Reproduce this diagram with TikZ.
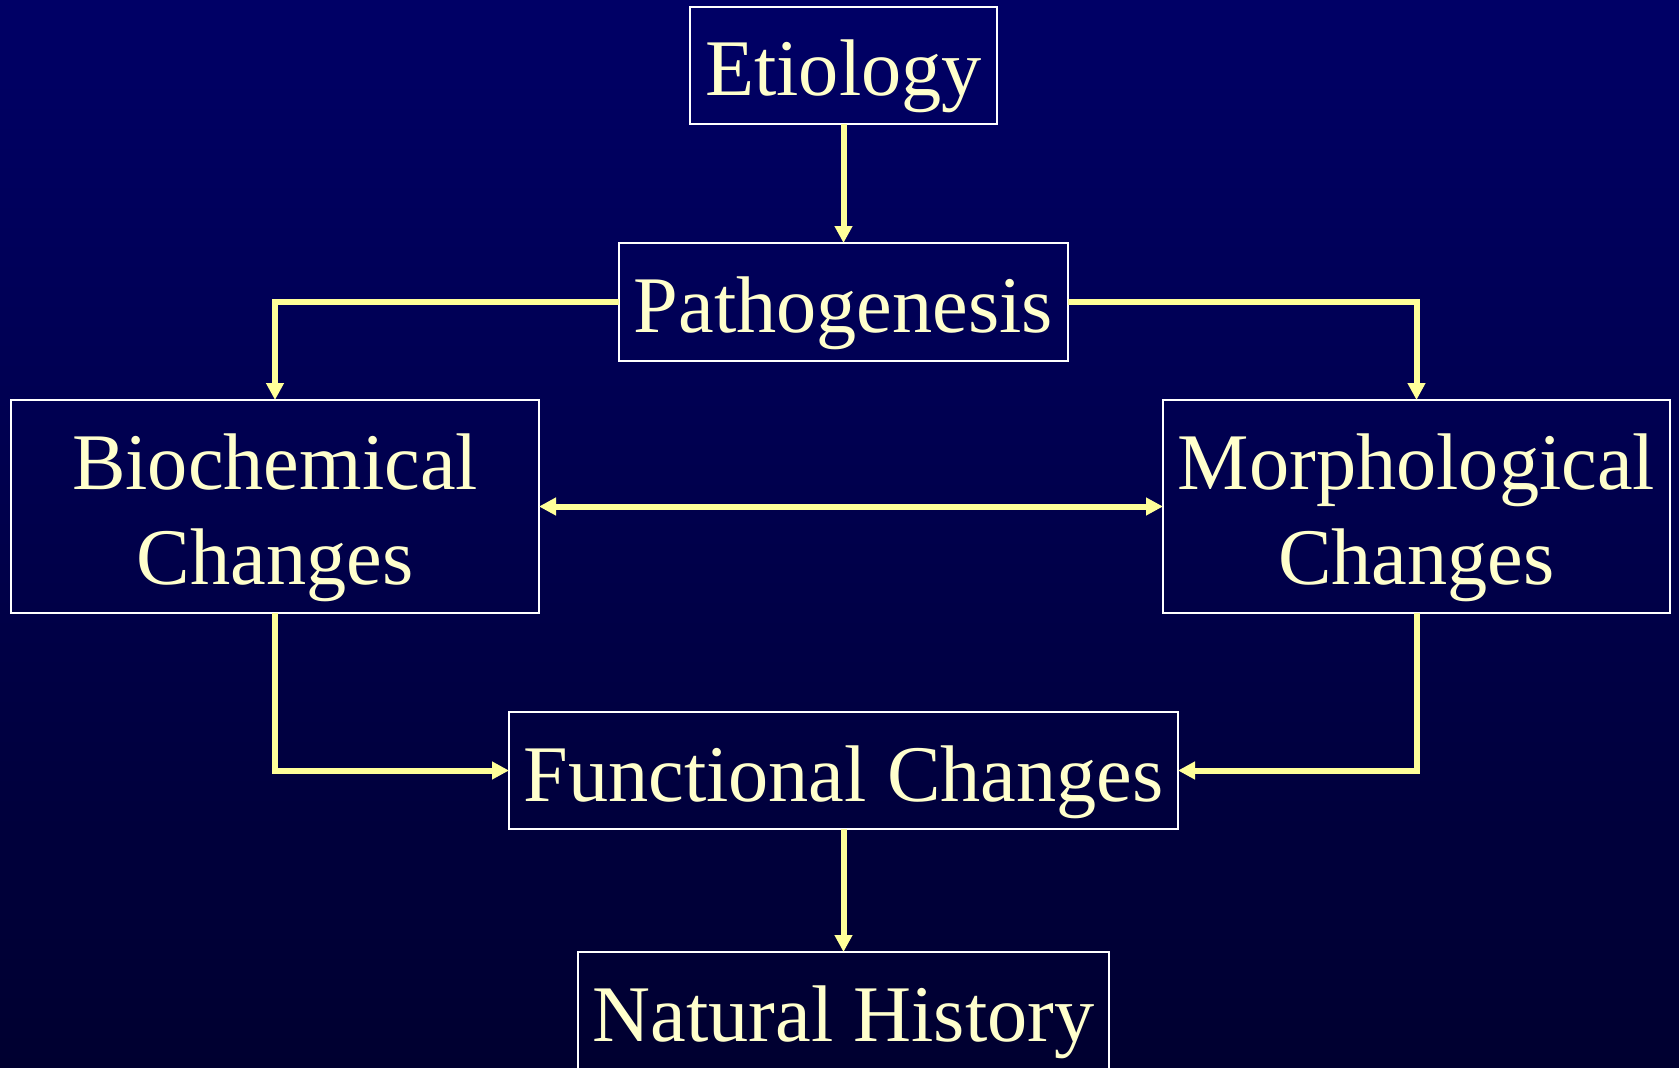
\documentclass[tikz,border=0pt]{standalone}
\usepackage{fontspec}
\setmainfont{Liberation Serif}
\usepackage{tikz}
\usetikzlibrary{arrows.meta}
\definecolor{slidetop}{RGB}{0,0,102}
\definecolor{slidebot}{RGB}{0,0,48}
\definecolor{txtyellow}{RGB}{255,255,204}
\definecolor{arryellow}{RGB}{255,255,153}

\begin{document}
\begin{tikzpicture}[
  box/.style={draw=white,line width=0.02cm,inner sep=0pt,outer sep=0pt,
    text=txtyellow,align=center,font=\fontsize{22.85pt}{27pt}\selectfont,
    text height=0.61cm,text depth=0cm},
  twobox/.style={box,text height=1.56cm,text depth=0cm},
  tip/.style={Triangle[length=0.17cm,width=0.17cm]},
  flow/.style={arryellow,line width=0.06cm,-{Triangle[length=0.17cm,width=0.17cm]}}]
\shade[top color=slidetop,bottom color=slidebot] (0,0) rectangle (16.79,10.67);
\useasboundingbox (0,0) rectangle (16.79,10.67);
%%%%

\node[box,minimum width=3.07cm,minimum height=1.17cm] (etio) at (8.435,10.015) {Etiology};
\node[box,minimum width=4.49cm,minimum height=1.18cm] (patho) at (8.435,7.65) {Pathogenesis};
\node[twobox,minimum width=5.28cm,minimum height=2.13cm] (bio) at (2.75,5.605) {Biochemical\\Changes};
\node[twobox,minimum width=5.07cm,minimum height=2.13cm] (morph) at (14.165,5.605) {Morphological\\Changes};
\node[box,minimum width=6.69cm,minimum height=1.17cm] (func) at (8.435,2.965) {Functional Changes};
\node[box,minimum width=5.31cm,minimum height=1.18cm] (nat) at (8.435,0.56) {Natural History};
%
\draw[flow] (etio)--(patho);
\draw[flow] (patho.west)-|(bio.north);
\draw[flow] (patho.east)-|(morph.north);
\draw[flow,{Triangle[length=0.17cm,width=0.17cm]}-{Triangle[length=0.17cm,width=0.17cm]}] (bio.east)--(morph.west);
%Into functional changes
\draw[flow] (bio.south)|-(func.west);
\draw[flow] (morph.south)|-(func.east);
\draw[flow] (func)--(nat);
\end{tikzpicture}
\end{document}
